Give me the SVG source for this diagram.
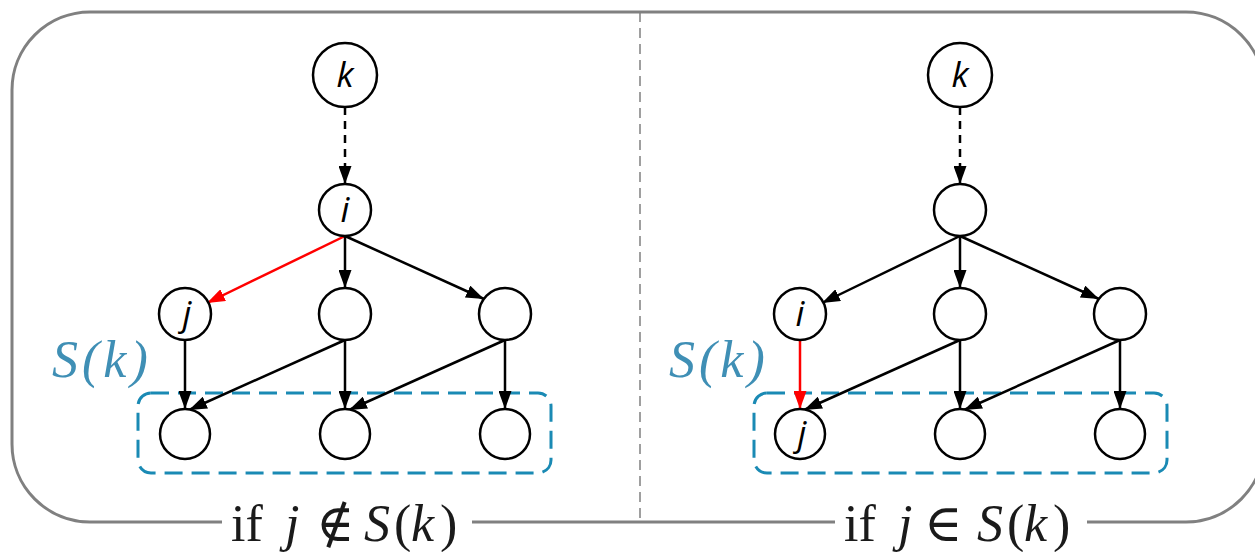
<svg xmlns="http://www.w3.org/2000/svg" width="1255" height="552" viewBox="0 0 1255 552">
<defs>
<style>
.node{fill:#fff;stroke:#000;stroke-width:2.5}
.lbl{font-family:"Open Sans","DejaVu Sans",sans-serif;font-style:italic;font-size:35px;fill:#000;text-anchor:middle}
.e{stroke:#000;stroke-width:2.5;fill:none}
.red{stroke:#ff0000;stroke-width:2.5;fill:none}
.dash{stroke-dasharray:8 6}
.box{fill:none;stroke:#1a8ab4;stroke-width:3;stroke-dasharray:18 9}
.sk{font-family:"Liberation Serif","DejaVu Serif",serif;font-style:italic;font-size:52px;letter-spacing:4px;fill:#3f8fb5}
.cap{font-family:"Liberation Serif","DejaVu Serif",serif;font-size:52px;fill:#1a1a1a}
.it{font-style:italic}
</style>
<marker id="ah" viewBox="0 0 18 13" refX="18" refY="6.5" markerWidth="18" markerHeight="13" markerUnits="userSpaceOnUse" orient="auto"><path d="M0,0 L18,6.5 L0,13 z" fill="#000"/></marker>
<marker id="ahr" viewBox="0 0 18 13" refX="18" refY="6.5" markerWidth="18" markerHeight="13" markerUnits="userSpaceOnUse" orient="auto"><path d="M0,0 L18,6.5 L0,13 z" fill="#ff0000"/></marker>
</defs>
<rect width="1255" height="552" fill="#fff"/>
<g id="frame">
<rect x="12" y="12" width="1252" height="510" rx="78" ry="78" fill="none" stroke="#808080" stroke-width="3"/>
<line x1="640" y1="12" x2="640" y2="522" stroke="#808080" stroke-width="1.5" stroke-dasharray="10 6"/>
</g>
<g id="groups">
<rect x="138" y="393" width="413" height="80" rx="13" class="box"/>
<rect x="754" y="393" width="413" height="80" rx="13" class="box"/>
<text class="sk" x="52" y="377">S(k)</text>
<text class="sk" x="669" y="377">S(k)</text>
</g>
<g id="connectors">
<line class="e dash" x1="345" y1="107" x2="345" y2="184" marker-end="url(#ah)"/>
<line class="red" x1="345" y1="236" x2="207" y2="303" marker-end="url(#ahr)"/>
<line class="e" x1="345" y1="236" x2="345" y2="288" marker-end="url(#ah)"/>
<line class="e" x1="345" y1="236" x2="484" y2="299" marker-end="url(#ah)"/>
<line class="e" x1="185" y1="340" x2="185" y2="409" marker-end="url(#ah)"/>
<line class="e" x1="345" y1="340" x2="189" y2="410" marker-end="url(#ah)"/>
<line class="e" x1="345" y1="340" x2="345" y2="409" marker-end="url(#ah)"/>
<line class="e" x1="505" y1="340" x2="349" y2="410" marker-end="url(#ah)"/>
<line class="e" x1="505" y1="340" x2="505" y2="409" marker-end="url(#ah)"/>
<line class="e dash" x1="960" y1="107" x2="960" y2="184" marker-end="url(#ah)"/>
<line class="e" x1="960" y1="236" x2="822" y2="303" marker-end="url(#ah)"/>
<line class="e" x1="960" y1="236" x2="960" y2="288" marker-end="url(#ah)"/>
<line class="e" x1="960" y1="236" x2="1099" y2="299" marker-end="url(#ah)"/>
<line class="red" x1="800" y1="340" x2="800" y2="409" marker-end="url(#ahr)"/>
<line class="e" x1="960" y1="340" x2="804" y2="410" marker-end="url(#ah)"/>
<line class="e" x1="960" y1="340" x2="960" y2="409" marker-end="url(#ah)"/>
<line class="e" x1="1120" y1="340" x2="964" y2="410" marker-end="url(#ah)"/>
<line class="e" x1="1120" y1="340" x2="1120" y2="409" marker-end="url(#ah)"/>
</g>
<g id="L-k"><circle class="node" cx="345" cy="75" r="32"/><text class="lbl" x="345" y="87">k</text></g>
<g id="L-i"><circle class="node" cx="345" cy="210" r="26"/><text class="lbl" x="345" y="222">i</text></g>
<g id="L-j"><circle class="node" cx="185" cy="314" r="26"/><text class="lbl" x="187" y="326">j</text></g>
<g id="L-m2"><circle class="node" cx="345" cy="314" r="26"/></g>
<g id="L-m3"><circle class="node" cx="505" cy="314" r="26"/></g>
<g id="L-b1"><circle class="node" cx="185" cy="434" r="25"/></g>
<g id="L-b2"><circle class="node" cx="345" cy="434" r="25"/></g>
<g id="L-b3"><circle class="node" cx="505" cy="434" r="25"/></g>
<g id="R-k"><circle class="node" cx="960" cy="75" r="32"/><text class="lbl" x="960" y="87">k</text></g>
<g id="R-top"><circle class="node" cx="960" cy="210" r="26"/></g>
<g id="R-i"><circle class="node" cx="800" cy="314" r="26"/><text class="lbl" x="800" y="326">i</text></g>
<g id="R-m2"><circle class="node" cx="960" cy="314" r="26"/></g>
<g id="R-m3"><circle class="node" cx="1120" cy="314" r="26"/></g>
<g id="R-j"><circle class="node" cx="800" cy="434" r="25"/><text class="lbl" x="802" y="446">j</text></g>
<g id="R-b2"><circle class="node" cx="960" cy="434" r="25"/></g>
<g id="R-b3"><circle class="node" cx="1120" cy="434" r="25"/></g>
<g id="captions">
<rect x="222" y="500" width="250" height="52" fill="#fff"/>
<rect x="835" y="500" width="252" height="52" fill="#fff"/>
<text class="cap" y="541"><tspan x="231">if</tspan><tspan x="285" class="it">j</tspan><tspan x="316">∉</tspan><tspan x="364" class="it">S</tspan><tspan x="394">(</tspan><tspan x="411" class="it">k</tspan><tspan x="440">)</tspan></text>
<text class="cap" y="541"><tspan x="844">if</tspan><tspan x="898" class="it">j</tspan><tspan x="924">∈</tspan><tspan x="977" class="it">S</tspan><tspan x="1007">(</tspan><tspan x="1024" class="it">k</tspan><tspan x="1053">)</tspan></text>
</g>
</svg>
